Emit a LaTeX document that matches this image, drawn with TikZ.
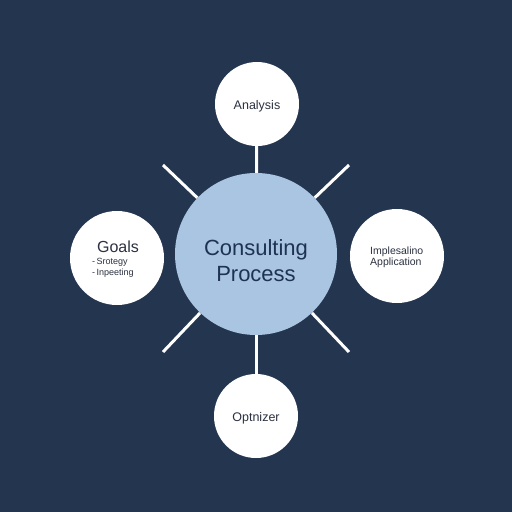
\documentclass[tikz,border=0pt]{standalone}
\usepackage{fontspec}
\setmainfont{Liberation Sans}
\definecolor{bgnavy}{HTML}{243550}
\definecolor{centerblue}{HTML}{AAC5E2}
\definecolor{centertext}{HTML}{1E3352}
\definecolor{sidetext}{HTML}{2B3140}
\begin{document}
\begin{tikzpicture}[x=1pt,y=-1pt,
  bubble/.style={circle,fill=white,draw=none,inner sep=0pt,text=sidetext,align=center},
  hub/.style={circle,fill=centerblue,draw=none,inner sep=0pt,text=centertext,align=center},
  link/.style={draw=white,line width=3pt}]
\fill[bgnavy] (0,0) rectangle (512,512);
\useasboundingbox (0,0) rectangle (512,512);
\node[hub,minimum size=162pt] (c) at (256,254) {};
\node[text=centertext,font=\fontsize{22}{26}\selectfont,align=center] (ct) at (256,261) {Consulting\\Process};
\node[bubble,minimum size=84pt] (a) at (257,104) {};
\node[text=sidetext,font=\fontsize{12.5}{14}\selectfont] (at) at (257,106) {Analysis};
\node[bubble,minimum size=84pt] (o) at (256,416) {};
\node[text=sidetext,font=\fontsize{12.5}{14}\selectfont] (ot) at (256,418) {Optnizer};
\node[bubble,minimum size=94pt] (g) at (117,258) {};
\node[bubble,minimum size=94pt] (r) at (397,256) {};
\node[text=sidetext,font=\fontsize{16}{18}\selectfont,anchor=base] (gt) at (118,252.5) {Goals};
\node[text=sidetext,font=\fontsize{9}{11}\selectfont,anchor=base west,inner sep=0pt] (g1) at (92,264) {-\,Srotegy};
\node[text=sidetext,font=\fontsize{9}{11}\selectfont,anchor=base west,inner sep=0pt] (g2) at (92,275.5) {-\,Inpeeting};
\node[text=sidetext,font=\fontsize{10.5}{12}\selectfont,anchor=base west,inner sep=0pt] (r1) at (370,254) {Implesalino};
\node[text=sidetext,font=\fontsize{10.5}{12}\selectfont,anchor=base west,inner sep=0pt] (r2) at (370,265) {Application};
\coordinate (d1) at (163,165);
\coordinate (d2) at (349,165);
\coordinate (d3) at (163,352);
\coordinate (d4) at (349,352);
\draw[link] (a) -- (c);
\draw[link] (c) -- (o);
\draw[link] (c) -- (d1);
\draw[link] (c) -- (d2);
\draw[link] (c) -- (d3);
\draw[link] (c) -- (d4);
\end{tikzpicture}
\end{document}
